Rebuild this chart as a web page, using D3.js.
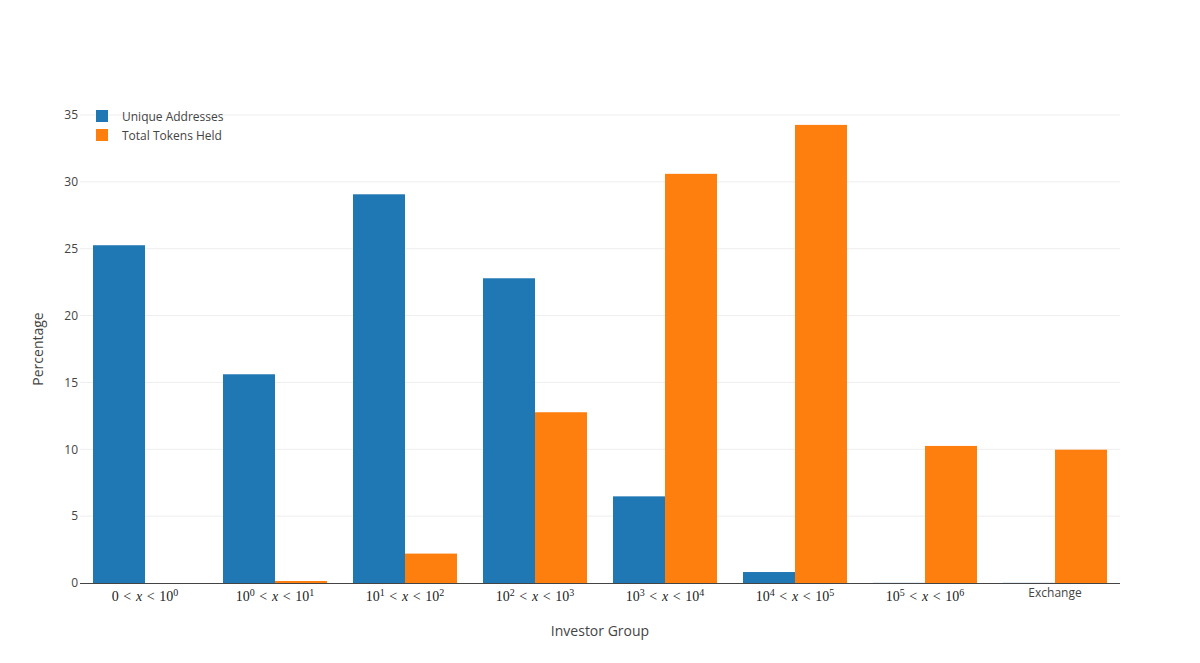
<!DOCTYPE html>
<html>
<head>
<meta charset="utf-8">
<script src="https://cdn.jsdelivr.net/npm/d3@7"></script>
<style>
  body { margin: 0; background: #fff; }
</style>
</head>
<body>
<svg id="chart"></svg>
<script>
var margin = {top: 115, right: 80, bottom: 80, left: 80},
    width = 1200 - margin.left - margin.right,
    height = 663 - margin.top - margin.bottom;

// groups: [lower exponent, upper exponent] or a plain label
var groups = ["g0", "g1", "g2", "g3", "g4", "g5", "g6", "Exchange"]
var groupLow = ["0", "0", "1", "2", "3", "4", "5", null]
var groupHigh = ["0", "1", "2", "3", "4", "5", "6", null]

var seriesNames = ["Unique Addresses", "Total Tokens Held"]
var uniqueAddresses = [25.26, 15.61, 29.07, 22.79, 6.48, 0.82, 0.01, 0.01]
var totalTokens = [0, 0.15, 2.2, 12.77, 30.6, 34.26, 10.25, 9.97]
var colors = ["#1f77b4", "#ff7f0e"]
var yTicks = [0, 5, 10, 15, 20, 25, 30, 35]

var sans = "'Open Sans', sans-serif"
var serif = "'Liberation Serif', 'DejaVu Serif', serif"

var svg = d3.select("#chart")
    .attr("width", 1200)
    .attr("height", 663)
    .style("font-family", sans)

var g = svg.append("g")
    .attr("transform", "translate(" + margin.left + "," + margin.top + ")")

var x = d3.scaleBand()
    .domain(groups)
    .range([0, width])
    .paddingInner(0.2)
    .paddingOuter(0.1)

var xSub = d3.scaleBand()
    .domain(seriesNames)
    .range([0, x.bandwidth()])

var y = d3.scaleLinear()
    .domain([0, 35])
    .range([height, 0])

// grid
g.append("g")
  .selectAll("line")
  .data(yTicks.slice(1))
  .enter()
  .append("line")
    .attr("x1", 0)
    .attr("x2", width)
    .attr("y1", function(d) { return y(d) })
    .attr("y2", function(d) { return y(d) })
    .attr("stroke", "#eee")
    .attr("stroke-width", 1)

// y axis labels
var yAxis = g.append("g")
    .call(d3.axisLeft(y).tickValues(yTicks).tickSize(0).tickPadding(2))
yAxis.select(".domain").remove()
yAxis.selectAll("text")
    .style("font-family", sans)
    .attr("font-size", 12)
    .attr("fill", "#444")

// bars
var rows = groups.map(function(k, i) {
  return {key: k, vals: [uniqueAddresses[i], totalTokens[i]]}
})

var grp = g.selectAll(".grp")
  .data(rows)
  .enter()
  .append("g")
    .attr("transform", function(d) { return "translate(" + x(d.key) + ",0)" })

grp.selectAll("rect")
  .data(function(d) { return d.vals.map(function(v, j) { return {name: seriesNames[j], v: v, c: colors[j]} }) })
  .enter()
  .append("rect")
    .attr("x", function(d) { return xSub(d.name) })
    .attr("y", function(d) { return y(d.v) })
    .attr("width", xSub.bandwidth())
    .attr("height", function(d) { return height - y(d.v) })
    .attr("fill", function(d) { return d.c })

// x axis line
g.append("line")
    .attr("x1", 0)
    .attr("x2", width)
    .attr("y1", height + 0.5)
    .attr("y2", height + 0.5)
    .attr("stroke", "#444")
    .attr("stroke-width", 1)

// x tick labels (math style)
var xl = g.append("g")
groups.forEach(function(k, i) {
  var cx = x(k) + x.bandwidth() / 2
  var t = xl.append("text")
      .attr("x", cx)
      .attr("y", height + 18)
      .attr("text-anchor", "middle")
  if (groupLow[i] === null) {
    t.style("font-family", sans)
     .attr("y", height + 14)
     .attr("font-size", 12)
     .attr("fill", "#444")
     .text(k)
    return
  }
  t.style("font-family", serif)
   .attr("font-size", 14)
   .attr("fill", "#222")
  var back = 0
  if (i === 0) {
    t.append("tspan").text("0")
  } else {
    t.append("tspan").text("10")
    t.append("tspan").attr("font-size", 10).attr("dy", -5).text(groupLow[i])
    back = 5
  }
  t.append("tspan").attr("dy", back).text("\u2004<\u2004")
  t.append("tspan").attr("font-style", "italic").text("x")
  t.append("tspan").text("\u2004<\u200410")
  t.append("tspan").attr("font-size", 10).attr("dy", -5).text(groupHigh[i])
})

// axis titles
svg.append("text")
    .attr("x", margin.left + width / 2)
    .attr("y", 636)
    .attr("text-anchor", "middle")
    .attr("font-size", 14)
    .attr("fill", "#444")
    .text("Investor Group")

svg.append("text")
    .attr("transform", "translate(43," + (margin.top + height / 2) + ") rotate(-90)")
    .attr("text-anchor", "middle")
    .attr("font-size", 14)
    .attr("fill", "#444")
    .text("Percentage")

// legend
var legend = svg.append("g")
    .attr("transform", "translate(96,110)")
seriesNames.forEach(function(n, i) {
  var row = legend.append("g").attr("transform", "translate(0," + (i * 19) + ")")
  row.append("rect")
      .attr("width", 12)
      .attr("height", 12)
      .attr("fill", colors[i])
  row.append("text")
      .attr("x", 26)
      .attr("y", 10.5)
      .attr("font-size", 12)
      .attr("fill", "#444")
      .text(n)
})
</script>
</body>
</html>
